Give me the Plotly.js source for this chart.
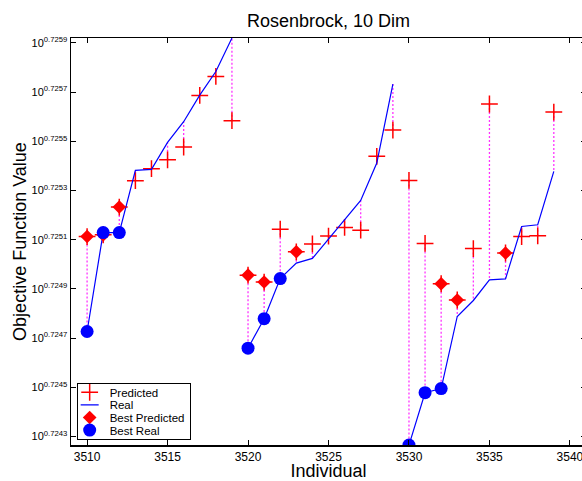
<!DOCTYPE html>
<html><head><meta charset="utf-8">
<script src="https://cdn.plot.ly/plotly-3.0.1.min.js"></script>
<style>html,body{margin:0;padding:0;overflow:hidden;background:#fff}#plot{width:590px;height:481px}</style>
</head><body><div id="plot"></div>
<script>
// Individuals (x) and log10 of objective function values (y exponent)
const individuals = [3510,3511,3512,3513,3514,3515,3516,3517,3518,3519,
                     3520,3521,3522,3523,3524,3525,3526,3527,3528,3529,
                     3530,3531,3532,3533,3534,3535,3536,3537,3538,3539];
const predicted = [0.725113,0.725120,0.725233,0.725340,0.725389,0.725425,0.725477,0.725687,0.725764,0.725584,
                   0.724956,0.724928,0.725143,0.725051,0.725083,0.725115,0.725150,0.725139,0.725439,0.725546,
                   0.725341,0.725085,0.724921,0.724855,0.725064,0.725652,0.725046,0.725113,0.725116,0.725619];
const real = [0.724727,0.725129,0.725129,0.725382,0.725386,0.725496,0.725580,0.725688,0.725784,0.725920,
              0.724659,0.724779,0.724942,0.725005,0.725024,0.725102,0.725181,0.725260,0.725412,0.725733,
              0.724265,0.724478,0.724495,0.724788,0.724853,0.724937,0.724941,0.725154,0.725161,0.725378];
const bestPredicted = [3510,3511,3512,3520,3521,3523,3532,3533,3536];
const bestReal = [3510,3511,3512,3520,3521,3522,3530,3531,3532];
const batchStarts = [3510,3520,3530];
const yTickExponents = [0.7243,0.7245,0.7247,0.7249,0.7251,0.7253,0.7255,0.7257,0.7259];
const xTicks = [3510,3515,3520,3525,3530,3535,3540];

// vertical dotted connectors predicted -> real
const dx = [], dy = [];
individuals.forEach((v, i) => { dx.push(v, v, null); dy.push(predicted[i], real[i], null); });

// real line broken between batches
const rx = [], ry = [];
individuals.forEach((v, i) => {
  if (i > 0 && batchStarts.includes(v)) { rx.push(null); ry.push(null); }
  rx.push(v); ry.push(real[i]);
});

const pick = (list, arr) => list.map(v => arr[individuals.indexOf(v)]);

const traces = [
  {x: dx, y: dy, mode: 'lines', showlegend: false, hoverinfo: 'skip',
   line: {color: '#ff33ff', width: 1.3, dash: '2px,2px'}},
  {x: individuals, y: predicted, mode: 'markers', name: 'Predicted',
   marker: {symbol: 'cross-thin', size: 12, color: '#ff0000', line: {color: '#ff0000', width: 1.5}}},
  {x: rx, y: ry, mode: 'lines', name: 'Real', connectgaps: false,
   line: {color: '#0000ff', width: 1.2}},
  {x: bestPredicted, y: pick(bestPredicted, predicted), mode: 'markers', name: 'Best Predicted',
   marker: {symbol: 'diamond', size: 10.5, color: '#ff0000'}},
  {x: bestReal, y: pick(bestReal, real), mode: 'markers', name: 'Best Real',
   marker: {symbol: 'circle', size: 13, color: '#0000ff'}}
];

const font = 'Liberation Sans, Arial, Helvetica, sans-serif';
const layout = {
  width: 590, height: 481,
  margin: {l: 71, r: 4, t: 38, b: 36},
  paper_bgcolor: '#fff', plot_bgcolor: '#fff',
  font: {family: font, color: '#000'},
  title: {text: 'Rosenbrock, 10 Dim', font: {size: 18, family: font, color: '#000'},
          x: 0.5, xref: 'paper', y: 0.957, yref: 'container', yanchor: 'middle'},
  xaxis: {range: [3509, 3541], tickvals: xTicks, ticktext: xTicks.map(String),
          ticks: 'inside', ticklen: 5, tickcolor: '#000', tickwidth: 1,
          showline: true, linecolor: '#000', linewidth: 1.5, mirror: 'ticks',
          showgrid: false, zeroline: false,
          tickfont: {size: 12, family: font},
          title: {text: 'Individual', font: {size: 18, family: font}, standoff: 4}},
  yaxis: {range: [0.7242654, 0.7259203], tickvals: yTickExponents,
          ticktext: yTickExponents.map(e => '10<sup>' + e.toFixed(4) + '</sup>'),
          ticks: 'inside', ticklen: 5, tickcolor: '#000', tickwidth: 1,
          showline: true, linecolor: '#000', linewidth: 1.5, mirror: 'ticks',
          showgrid: false, zeroline: false,
          tickfont: {size: 11, family: font},
          title: {text: 'Objective Function Value', font: {size: 18, family: font}, standoff: 0}},
  legend: {x: 0.011, y: 0.012, xanchor: 'left', yanchor: 'bottom',
           bgcolor: '#fff', bordercolor: '#000', borderwidth: 1,
           font: {size: 11.5, family: font}, itemwidth: 30, tracegroupgap: 0},
  showlegend: true
};

// compact the legend rows to match the reference's tight MATLAB-style legend
function compactLegend(gd) {
  const leg = gd.querySelector('.legend');
  if (!leg) return;
  const parse = el => {
    const t = el.getAttribute('transform') || '';
    const m = /translate\(\s*([-\d.e]+)[ ,]+([-\d.e]+)\s*\)/.exec(t);
    return m ? [parseFloat(m[1]), parseFloat(m[2])] : [0, 0];
  };
  const items = Array.from(leg.querySelectorAll('g.traces'));
  const spacing = 12.6, firstY = 9.5, xShift = -8;
  items.forEach((el, i) => {
    const p = parse(el);
    el.setAttribute('transform', 'translate(' + (p[0] + xShift) + ',' + (firstY + i * spacing) + ')');
    const ln = el.querySelector('.legendlines path');
    if (ln) ln.setAttribute('d', 'M11,0h18');
  });
  const bg = leg.querySelector('rect.bg');
  const oldH = parseFloat(bg.getAttribute('height'));
  const oldW = parseFloat(bg.getAttribute('width'));
  const newH = firstY + (items.length - 1) * spacing + 9;
  bg.setAttribute('height', newH);
  bg.setAttribute('width', oldW + xShift);
  const lp = parse(leg);
  leg.setAttribute('transform', 'translate(' + lp[0] + ',' + (lp[1] + oldH - newH) + ')');
}

Plotly.newPlot('plot', traces, layout, {displayModeBar: false, staticPlot: true}).then(compactLegend);
</script>
</body></html>
